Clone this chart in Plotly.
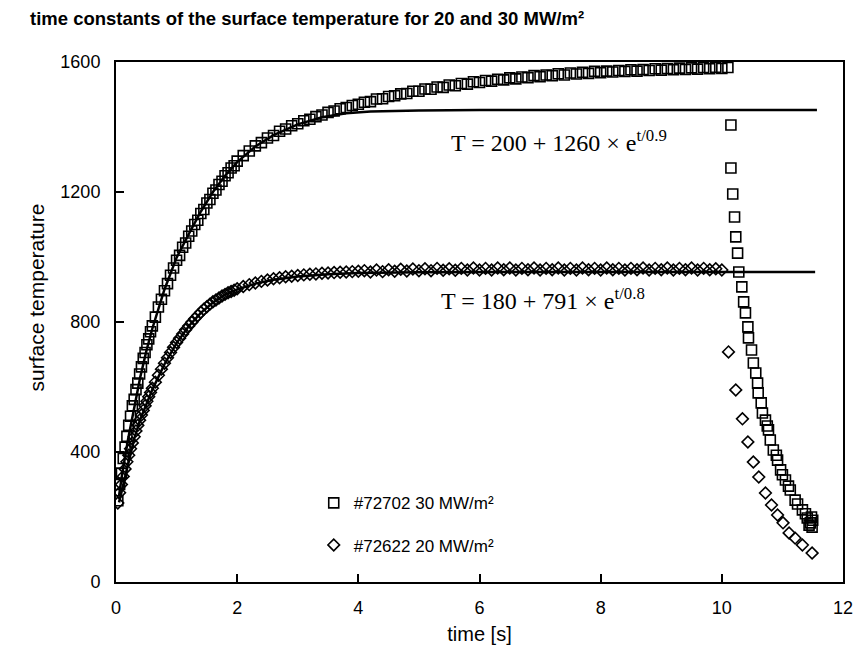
import plotly.graph_objects as go

# ---- data: shot #72702, 30 MW/m² (squares) ----
t30 = [0.03, 0.06, 0.09, 0.12, 0.15, 0.18, 0.21, 0.24, 0.27, 0.30, 0.33, 0.36, 0.39, 0.42, 0.45,
       0.48, 0.51, 0.54, 0.57, 0.60, 0.65, 0.70, 0.75, 0.80, 0.85, 0.90, 0.95, 1.00, 1.05, 1.10,
       1.15, 1.20, 1.25, 1.30, 1.35, 1.40, 1.45, 1.50, 1.55, 1.60, 1.65, 1.70, 1.75, 1.80, 1.85,
       1.90, 1.95, 2.00, 2.1, 2.2, 2.3, 2.4, 2.5, 2.6, 2.7, 2.8, 2.9, 3.0, 3.1, 3.2,
       3.3, 3.4, 3.5, 3.6, 3.7, 3.8, 3.9, 4.0,
       4.1, 4.2, 4.3, 4.4, 4.5, 4.6, 4.7, 4.8, 4.9, 5.0, 5.1, 5.2, 5.3, 5.4, 5.5, 5.6, 5.7, 5.8,
       5.9, 6.0, 6.1, 6.2, 6.3, 6.4, 6.5, 6.6, 6.7, 6.8, 6.9, 7.0, 7.1, 7.2, 7.3, 7.4, 7.5, 7.6,
       7.7, 7.8, 7.9, 8.0, 8.1, 8.2, 8.3, 8.4, 8.5, 8.6, 8.7, 8.8, 8.9, 9.0, 9.1, 9.2, 9.3, 9.4,
       9.5, 9.6, 9.7, 9.8, 9.9, 10.0, 10.1,
       10.15, 10.15, 10.18, 10.21, 10.23, 10.26, 10.28, 10.33, 10.36, 10.39, 10.43, 10.44, 10.49,
       10.52, 10.56, 10.59, 10.60, 10.65, 10.67, 10.72, 10.75, 10.77, 10.80, 10.85, 10.90, 10.92,
       10.97, 11.00, 11.05, 11.10, 11.13, 11.21, 11.25, 11.33, 11.38, 11.41, 11.44, 11.46, 11.48,
       11.49, 11.50]
T30 = [250, 300, 335, 380, 415, 448, 482, 510, 542, 562, 592, 612, 640, 662, 688,
       706, 730, 748, 770, 788, 815, 846, 870, 896, 918, 944, 966, 990, 1005, 1030,
       1043, 1064, 1080, 1100, 1113, 1134, 1146, 1166, 1177, 1196, 1206, 1223, 1233, 1250, 1259,
       1274, 1281, 1295, 1312, 1326, 1342, 1352, 1366, 1374, 1387, 1394, 1404, 1410, 1419, 1424,
       1432, 1437, 1445, 1449, 1456, 1460, 1466, 1470,
       1476, 1478, 1486, 1487, 1494, 1496, 1502, 1503, 1510, 1510, 1517, 1516, 1523, 1522, 1529,
       1527, 1534, 1532, 1539, 1537, 1543, 1541, 1547, 1545, 1551, 1548, 1554, 1552, 1558, 1555,
       1560, 1558, 1564, 1560, 1566, 1563, 1568, 1565, 1571, 1567, 1572, 1569, 1574, 1571, 1576,
       1572, 1577, 1574, 1579, 1575, 1580, 1576, 1581, 1577, 1582, 1578, 1583, 1579, 1584, 1580,
       1583,
       1406, 1274, 1194, 1123, 1062, 1012, 954, 908, 862, 828, 785, 751, 714,
       674, 643, 612, 582, 551, 520, 498, 480, 468, 437, 406, 390, 375,
       345, 330, 314, 295, 283, 252, 240, 222, 210, 197, 175, 182, 200,
       169, 190]

# ---- data: shot #72622, 20 MW/m² (diamonds) ----
t20 = [0.03, 0.06, 0.09, 0.12, 0.15, 0.18, 0.21, 0.24, 0.27, 0.30, 0.33, 0.36, 0.39, 0.42, 0.45,
       0.48, 0.51, 0.54, 0.57, 0.60, 0.65, 0.70, 0.75, 0.80, 0.85, 0.90, 0.95, 1.00, 1.05, 1.10,
       1.15, 1.20, 1.25, 1.30, 1.35, 1.40, 1.45, 1.50, 1.55, 1.60, 1.65, 1.70, 1.75, 1.80, 1.85,
       1.90, 1.95, 2.00, 2.1, 2.2, 2.3, 2.4, 2.5, 2.6, 2.7, 2.8, 2.9, 3.0, 3.1, 3.2,
       3.3, 3.4, 3.5, 3.6, 3.7, 3.8, 3.9, 4.0,
       4.1, 4.2, 4.3, 4.4, 4.5, 4.6, 4.7, 4.8, 4.9, 5.0, 5.1, 5.2, 5.3, 5.4, 5.5, 5.6, 5.7, 5.8,
       5.9, 6.0, 6.1, 6.2, 6.3, 6.4, 6.5, 6.6, 6.7, 6.8, 6.9, 7.0, 7.1, 7.2, 7.3, 7.4, 7.5, 7.6,
       7.7, 7.8, 7.9, 8.0, 8.1, 8.2, 8.3, 8.4, 8.5, 8.6, 8.7, 8.8, 8.9, 9.0, 9.1, 9.2, 9.3, 9.4,
       9.5, 9.6, 9.7, 9.8, 9.9, 10.0,
       10.11, 10.23, 10.34, 10.43, 10.52, 10.61, 10.72, 10.82, 10.92, 11.01, 11.11, 11.21, 11.33,
       11.49]
T20 = [243, 275, 300, 325, 348, 370, 390, 410, 428, 447, 465, 482, 498, 514, 528,
       542, 556, 570, 583, 596, 615, 636, 655, 673, 690, 706, 722, 737, 750, 763,
       776, 788, 799, 810, 820, 830, 839, 847, 855, 862, 868, 874, 880, 885, 890,
       894, 898, 902, 909, 915, 920, 925, 929, 933, 936, 939, 941, 943, 945, 947,
       948, 950, 951, 952, 953, 954, 955, 956,
       958, 954, 960, 955, 961, 956, 962, 957, 963, 958, 964, 958, 965, 959, 964,
       959, 965, 960, 966, 960, 965, 960, 966, 961, 966, 960, 965, 961, 966, 960,
       965, 961, 966, 960, 965, 960, 966, 961, 965, 960, 966, 961, 965, 960, 965,
       961, 966, 960, 965, 961, 966, 960, 965, 961, 966, 960, 965, 961, 964, 960,
       708, 591, 502, 431, 369, 323, 274, 237, 206, 182, 151, 135, 114,
       89]

# ---- fitted curves ----
fit30_t = [0.05, 0.1, 0.2, 0.3, 0.4, 0.5, 0.6, 0.8, 1.0, 1.2, 1.4, 1.6, 1.8, 2.0, 2.3, 2.6,
           3.0, 3.4, 3.8, 4.2, 5.0, 6.0, 8.0, 10.0, 11.57]
fit30_T = [265, 330, 440, 540, 630, 710, 780, 900, 998, 1070, 1140, 1200, 1250, 1292, 1340, 1375,
           1408, 1430, 1442, 1448, 1451, 1452, 1452, 1452, 1452]
fit20_t = [0.05, 0.1, 0.2, 0.3, 0.4, 0.5, 0.6, 0.8, 1.0, 1.2, 1.4, 1.6, 1.8, 2.0, 2.3, 2.6,
           3.0, 3.5, 4.0, 5.0, 6.0, 8.0, 10.0, 11.54]
fit20_T = [245, 285, 360, 440, 500, 548, 592, 670, 735, 787, 828, 860, 884, 900, 918, 930,
           940, 947, 951, 953, 954, 954, 954, 954]

x_ticks = [0, 2, 4, 6, 8, 10, 12]
y_ticks = [0, 400, 800, 1200, 1600]

fig = go.Figure()
fig.add_trace(go.Scatter(
    x=t30, y=T30, mode="markers", name="#72702 30 MW/m²", legendgroup="a",
    marker=dict(symbol="square-open", size=10, color="black", line=dict(width=1.6, color="black"))))
fig.add_trace(go.Scatter(
    x=t20, y=T20, mode="markers", name="#72622 20 MW/m²", legendgroup="b",
    marker=dict(symbol="diamond-open", size=9, color="black", line=dict(width=1.6, color="black"))))
fig.add_trace(go.Scatter(x=fit30_t, y=fit30_T, mode="lines", showlegend=False,
                         line=dict(color="black", width=2.5)))
fig.add_trace(go.Scatter(x=fit20_t, y=fit20_T, mode="lines", showlegend=False,
                         line=dict(color="black", width=2.5)))

serif = "Liberation Serif, Times New Roman, serif"
sans = "Liberation Sans, Arial, sans-serif"

fig.add_annotation(x=5.5, y=1356, xref="x", yref="y", xanchor="left", yanchor="middle",
                   text="T = 200 + 1260 × e<sup>t/0.9</sup>", showarrow=False,
                   font=dict(family=serif, size=24, color="black"))
fig.add_annotation(x=5.33, y=870, xref="x", yref="y", xanchor="left", yanchor="middle",
                   text="T = 180 + 791 × e<sup>t/0.8</sup>", showarrow=False,
                   font=dict(family=serif, size=24, color="black"))
fig.add_annotation(x=-0.128, y=0.548, xref="paper", yref="paper", textangle=-90,
                   text="surface temperature", showarrow=False,
                   font=dict(family=sans, size=21, color="black"))

fig.update_layout(
    width=865, height=660,
    margin=dict(l=116, r=15, t=62, b=78),
    paper_bgcolor="white", plot_bgcolor="white",
    title=dict(text="<b>time constants of the surface temperature for 20 and 30 MW/m²</b>",
               x=30 / 865, xref="container", xanchor="left",
               y=1 - 19 / 660, yref="container", yanchor="middle",
               font=dict(family=sans, size=18.5, color="black")),
    legend=dict(x=0.272, y=0.186, xanchor="left", yanchor="top",
                bgcolor="rgba(0,0,0,0)", borderwidth=0, tracegroupgap=17,
                traceorder="grouped",
                font=dict(family=sans, size=17, color="black")),
    xaxis=dict(range=[0, 12], tickvals=x_ticks, ticktext=[str(v) for v in x_ticks],
               showgrid=False, zeroline=False, showline=True, linecolor="black", linewidth=2,
               mirror=True, ticks="inside", ticklen=8, tickwidth=1.5, tickcolor="black",
               ticklabelstandoff=8,
               tickfont=dict(family=sans, size=18, color="black"),
               title=dict(text="time [s]", font=dict(family=sans, size=20, color="black"),
                          standoff=10)),
    yaxis=dict(range=[0, 1600], tickvals=y_ticks, ticktext=[str(v) for v in y_ticks],
               showgrid=False, zeroline=False, showline=True, linecolor="black", linewidth=2,
               mirror=True, ticks="inside", ticklen=8, tickwidth=1.5, tickcolor="black",
               ticklabelstandoff=10,
               tickfont=dict(family=sans, size=18, color="black")),
)

fig.write_html("out.html")
